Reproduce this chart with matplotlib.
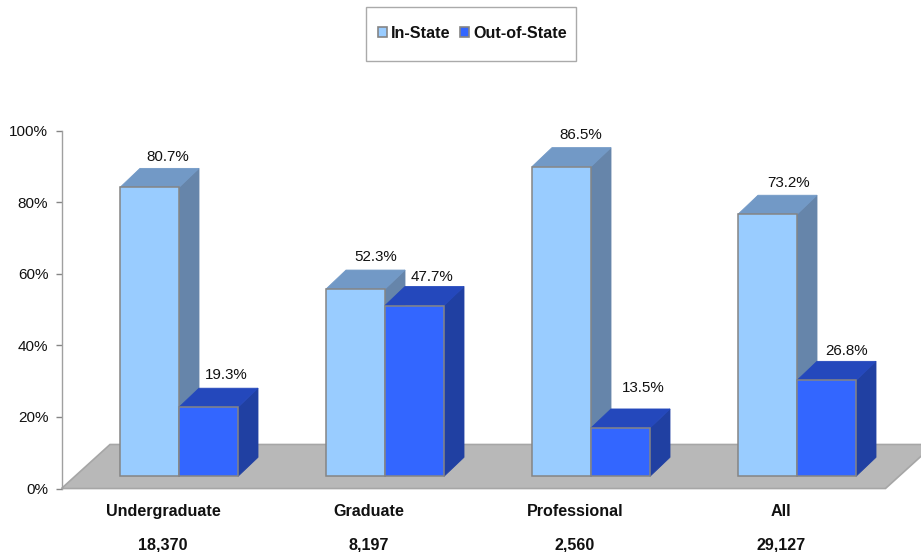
import matplotlib
matplotlib.use("Agg")
import matplotlib.pyplot as plt
from matplotlib.patches import Polygon, Rectangle, Patch

plt.rcParams['font.family'] = ['Liberation Sans', 'DejaVu Sans']

# data
categories = ["Undergraduate", "Graduate", "Professional", "All"]
counts = ["18,370", "8,197", "2,560", "29,127"]
in_state = [80.7, 52.3, 86.5, 73.2]
out_state = [19.3, 47.7, 13.5, 26.8]
y_ticks = [0, 20, 40, 60, 80, 100]

W, H = 921, 552
fig = plt.figure(figsize=(W / 100, H / 100), dpi=100)
L, R, T, B = 61.5, 885.5, 130.5, 488.5
ax = fig.add_axes([L / W, 1 - B / H, (R - L) / W, (B - T) / H])
PX_X = 206.0          # pixels per category
PX_Y = 3.58           # pixels per percent
x0 = (L - 179) / PX_X
ax.set_xlim(x0, x0 + (R - L) / PX_X)
ax.set_ylim(0, 100)

EDGE = "#858585"
BW = 59 / PX_X
DX, DY = 20 / PX_X, 19 / PX_Y
BASE = 12.2 / PX_Y
FX, FY = 48.5 / PX_X, 44 / PX_Y

xl, xr = ax.get_xlim()
ax.add_patch(Polygon([(xl, 0), (xr, 0), (xr + FX, FY), (xl + FX, FY)], closed=True,
                     facecolor="#B8B8B8", edgecolor="#A6A6A6", lw=1.2,
                     clip_on=False, zorder=1))


def bar3d(x, v, front, top, side, z):
    y0, y1 = BASE, BASE + v
    kw = dict(closed=True, edgecolor=EDGE, lw=1.1, joinstyle="miter", clip_on=False, zorder=z)
    ax.add_patch(Polygon([(x + BW, y0), (x + BW + DX, y0 + DY), (x + BW + DX, y1 + DY), (x + BW, y1)],
                         facecolor=side, **{**kw, "edgecolor": side, "lw": 0.6}))
    ax.add_patch(Polygon([(x, y1), (x + DX, y1 + DY), (x + BW + DX, y1 + DY), (x + BW, y1)],
                         facecolor=top, **{**kw, "edgecolor": top, "lw": 0.6}))
    ax.add_patch(Polygon([(x, y0), (x + BW, y0), (x + BW, y1), (x, y1)], facecolor=front, **kw))


# label offsets in pixels from the front-top centre of each bar
nudge_in = [(18, 30), (20, 32), (19, 32), (21, 31)]
nudge_out = [(18, 32), (17, 29), (23, 40), (20, 29)]

for i, (a, b) in enumerate(zip(in_state, out_state)):
    z = 2 + i * 2
    bar3d(i - BW, a, "#99CCFF", "#7299C6", "#6685AA", z)
    bar3d(i, b, "#3366FF", "#2448BC", "#2040A2", z + 1)
    ax.annotate(f"{a}%", (i - BW / 2, BASE + a), xytext=nudge_in[i], textcoords="offset pixels",
                ha="center", va="center", fontsize=10.9, color="#111111", zorder=20)
    ax.annotate(f"{b}%", (i + BW / 2, BASE + b), xytext=nudge_out[i], textcoords="offset pixels",
                ha="center", va="center", fontsize=10.9, color="#111111", zorder=20)
    ax.annotate(categories[i], (i, 0), xytext=(-16, -23), textcoords="offset pixels",
                ha="center", va="center", fontsize=11.6, fontweight="bold", color="#111111",
                annotation_clip=False)
    ax.annotate(counts[i], (i, 0), xytext=(-16, -56), textcoords="offset pixels",
                ha="center", va="center", fontsize=11.6, fontweight="bold", color="#111111",
                annotation_clip=False)

ax.set_xticks([])
ax.set_yticks(y_ticks)
ax.set_yticklabels([f"{t}%" for t in y_ticks], fontsize=11, color="#111111")
ax.tick_params(axis="y", length=4.5, width=1.0, color=EDGE, pad=5)
for s in ("top", "right", "bottom"):
    ax.spines[s].set_visible(False)
ax.spines["left"].set_color("#A0A0A0")
ax.spines["left"].set_linewidth(1.0)
ax.patch.set_alpha(0)

# legend frame
fig.add_artist(Rectangle((365.5 / W, 1 - 61 / H), 210 / W, 53.5 / H, transform=fig.transFigure,
                         facecolor="white", edgecolor="#AAAAAA", lw=1.0))
handles = [Patch(facecolor="#99CCFF", edgecolor=EDGE, lw=1.2, label="In-State"),
           Patch(facecolor="#3366FF", edgecolor=EDGE, lw=1.2, label="Out-of-State")]
leg = fig.legend(handles=handles, loc="center", bbox_to_anchor=(472.5 / W, 1 - 33.5 / H),
                 ncol=2, frameon=False, handlelength=0.55, handleheight=0.6, handletextpad=0.25,
                 columnspacing=0.6, prop=dict(size=11.6, weight="bold"), labelcolor="#111111")

fig.savefig("out.png", dpi=100, facecolor="white")
